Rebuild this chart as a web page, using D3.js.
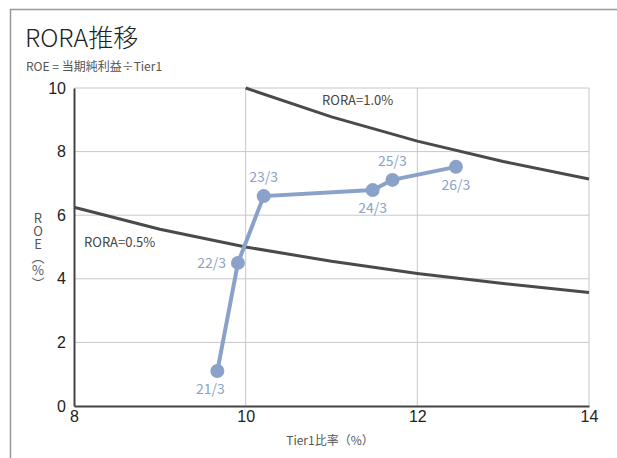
<!DOCTYPE html>
<html>
  <head>
    <meta charset="utf-8"/>
    <script type="text/javascript" src="https://cdnjs.cloudflare.com/ajax/libs/d3/7.8.5/d3.min.js"></script>
    <style type="text/css">

html, body {
  margin: 0;
  padding: 0;
  background: #fff;
}

svg {
  font-family: "Noto Sans CJK JP", "Noto Sans", sans-serif;
}

.grid line {
  stroke: #c8c8c8;
  stroke-width: 1;
}

.tick text {
  font-size: 16px;
  fill: #222;
}

.ytitle {
  writing-mode: vertical-rl;
  text-orientation: upright;
}

.rora {
  fill: none;
  stroke: #4a4a4a;
  stroke-width: 3;
}

.trend {
  fill: none;
  stroke: #8aa2ca;
  stroke-width: 4;
}

.pt {
  fill: #8aa2ca;
}

.pt-label {
  fill: #8aa2ca;
  font-size: 14px;
}

    </style>
  </head>
  <body>
    <script type="text/javascript">

// actual results (Tier1 ratio %, ROE %)
var periods = ["21/3", "22/3", "23/3", "24/3", "25/3", "26/3"];
var tier1 = [9.67, 9.91, 10.21, 11.48, 11.71, 12.45];
var roe = [1.1, 4.5, 6.6, 6.79, 7.11, 7.52];
var labelPos = ["below", "left", "above", "below", "above", "below"];

// RORA reference curves
var roraX = [8, 9, 10, 11, 12, 13, 14];
var rora05 = [6.25, 5.56, 5.0, 4.55, 4.17, 3.85, 3.57];
var rora10X = [10, 11, 12, 13, 14];
var rora10 = [10, 9.09, 8.33, 7.69, 7.14];

var xTicks = [8, 10, 12, 14];
var yTicks = [0, 2, 4, 6, 8, 10];

var width = 617, height = 458;
var margin = {left: 74, right: 28, top: 88, bottom: 52};

var svg = d3.select("body").append("svg")
    .attr("width", width)
    .attr("height", height);

// outer frame (only top and left visible)
svg.append("path")
    .attr("d", "M10.5," + height + "V9.5H" + width)
    .attr("fill", "none")
    .attr("stroke", "#999")
    .attr("stroke-width", 1.5);

svg.append("text")
    .attr("x", 25).attr("y", 47)
    .attr("font-size", 25)
    .attr("font-weight", 300)
    .attr("fill", "#222")
    .text("RORA推移");

svg.append("text")
    .attr("x", 26).attr("y", 71)
    .attr("font-size", 12)
    .attr("fill", "#555")
    .text("ROE = 当期純利益÷Tier1");

var x = d3.scaleLinear().domain([8, 14]).range([margin.left, width - margin.right]);
var y = d3.scaleLinear().domain([0, 10]).range([height - margin.bottom, margin.top]);

// grid
var grid = svg.append("g").attr("class", "grid");
grid.selectAll(".h").data(yTicks.slice(1)).enter().append("line")
    .attr("x1", x(8)).attr("x2", x(14))
    .attr("y1", function(d) { return y(d); })
    .attr("y2", function(d) { return y(d); });
grid.selectAll(".v").data(xTicks.slice(1)).enter().append("line")
    .attr("y1", y(0)).attr("y2", y(10))
    .attr("x1", function(d) { return x(d); })
    .attr("x2", function(d) { return x(d); });

// axes
var xAxis = svg.append("g")
    .attr("transform", "translate(0," + y(0) + ")")
    .call(d3.axisBottom(x).tickValues(xTicks).tickFormat(d3.format("d")).tickSize(0).tickPadding(5));
xAxis.select(".domain").attr("stroke", "#444").attr("stroke-width", 2);

var yAxis = svg.append("g")
    .attr("transform", "translate(" + x(8) + ",0)")
    .call(d3.axisLeft(y).tickValues(yTicks).tickFormat(d3.format("d")).tickSize(0).tickPadding(8));
yAxis.select(".domain").attr("stroke", "#444").attr("stroke-width", 2);
svg.selectAll(".tick text").attr("font-family", "Liberation Sans, Arial, sans-serif");

// axis titles
svg.append("text")
    .attr("x", 330).attr("y", 445)
    .attr("text-anchor", "middle")
    .attr("font-size", 12)
    .attr("fill", "#555")
    .text("Tier1比率（%）");

// vertical y title
svg.append("text")
    .attr("class", "ytitle")
    .attr("x", 38).attr("y", 212)
    .attr("font-size", 13)
    .attr("fill", "#555")
    .text("ROE（%）");

// RORA curves
var line = d3.line()
    .x(function(d) { return x(d[0]); })
    .y(function(d) { return y(d[1]); });

svg.append("path").attr("class", "rora")
    .attr("d", line(d3.zip(roraX, rora05)));
svg.append("path").attr("class", "rora")
    .attr("d", line(d3.zip(rora10X, rora10)));

svg.append("text")
    .attr("x", 322).attr("y", 105)
    .attr("font-size", 13).attr("fill", "#444")
    .text("RORA=1.0%");
svg.append("text")
    .attr("x", 84).attr("y", 247)
    .attr("font-size", 13).attr("fill", "#444")
    .text("RORA=0.5%");

// trend
var pts = d3.zip(tier1, roe);
svg.append("path").attr("class", "trend").attr("d", line(pts));

svg.selectAll(".pt").data(pts).enter().append("circle")
    .attr("class", "pt")
    .attr("r", 7)
    .attr("cx", function(d) { return x(d[0]); })
    .attr("cy", function(d) { return y(d[1]); });

svg.selectAll(".pt-label").data(pts).enter().append("text")
    .attr("class", "pt-label")
    .attr("text-anchor", function(d, i) { return labelPos[i] === "left" ? "end" : "middle"; })
    .attr("x", function(d, i) {
      var px = x(d[0]);
      if (labelPos[i] === "left") return px - 12;
      if (i === 0) return px - 7;
      return px;
    })
    .attr("y", function(d, i) {
      var py = y(d[1]);
      if (labelPos[i] === "above") return py - 14;
      if (labelPos[i] === "below") return py + 23;
      return py + 5;
    })
    .text(function(d, i) { return periods[i]; });

    </script>
  </body>
</html>
